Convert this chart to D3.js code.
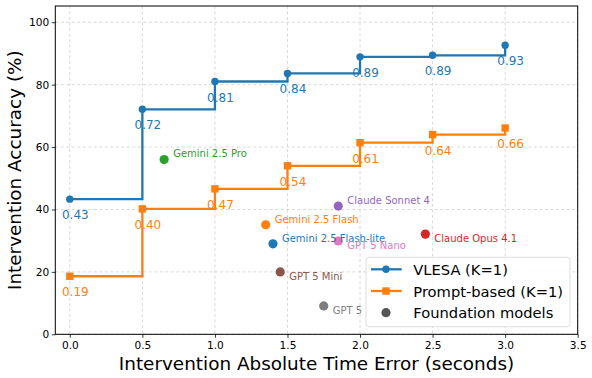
<!DOCTYPE html>
<html>
<head>
<meta charset="utf-8">
<script src="https://cdn.jsdelivr.net/npm/d3@7"></script>
<style>
  body { margin: 0; background: #fff; }
  svg { font-family: "DejaVu Sans", sans-serif; }
</style>
</head>
<body>
<div id="chart"></div>
<script>
// Data
const timeErrors = [0, 0.5, 1.0, 1.5, 2.0, 2.5, 3.0];
const vlesaAcc = [43.3, 72.1, 81.0, 83.6, 88.9, 89.4, 92.6];
const promptAcc = [18.6, 40.2, 46.6, 54.0, 61.4, 64.0, 66.1];

const modelNames = ["Gemini 2.5 Pro", "Gemini 2.5 Flash", "Gemini 2.5 Flash-lite", "GPT 5 Mini",
                    "Claude Sonnet 4", "GPT 5 Nano", "Claude Opus 4.1", "GPT 5"];
const modelErr = [0.65, 1.35, 1.40, 1.45, 1.85, 1.85, 2.45, 1.75];
const modelAcc = [56.0, 35.1, 29.0, 20.0, 41.1, 29.9, 32.1, 9.1];
const modelColors = ["#2ca02c", "#ff7f0e", "#1f77b4", "#8c564b", "#9467bd", "#e377c2", "#d62728", "#7f7f7f"];
const modelLabelUp = [true, true, true, false, true, false, false, false];

const xTicks = [0, 0.5, 1.0, 1.5, 2.0, 2.5, 3.0, 3.5];
const yTicks = [0, 20, 40, 60, 80, 100];

const W = 592, H = 378;
const margin = { top: 6, right: 14.3, bottom: 43.7, left: 55.3 };
const width = W - margin.left - margin.right;
const height = H - margin.top - margin.bottom;

const svg = d3.select("#chart").append("svg")
    .attr("width", W)
    .attr("height", H);

const g = svg.append("g")
    .attr("transform", `translate(${margin.left},${margin.top})`);

const x = d3.scaleLinear().domain([-0.1, 3.5]).range([0, width]);
const y = d3.scaleLinear().domain([0, 105.2]).range([height, 0]);

// grid
g.append("g").selectAll("line")
    .data(xTicks)
    .enter().append("line")
    .attr("x1", d => x(d)).attr("x2", d => x(d))
    .attr("y1", 0).attr("y2", height)
    .attr("stroke", "#cfcfcf").attr("stroke-width", 0.8)
    .attr("stroke-dasharray", "3,2.5");
g.append("g").selectAll("line")
    .data(yTicks)
    .enter().append("line")
    .attr("x1", 0).attr("x2", width)
    .attr("y1", d => y(d)).attr("y2", d => y(d))
    .attr("stroke", "#cfcfcf").attr("stroke-width", 0.8)
    .attr("stroke-dasharray", "3,2.5");

// axes
const xAxis = g.append("g")
    .attr("transform", `translate(0,${height})`)
    .call(d3.axisBottom(x).tickValues(xTicks).tickFormat(d3.format(".1f")).tickSize(3.5).tickPadding(3.5));
const yAxis = g.append("g")
    .call(d3.axisLeft(y).tickValues(yTicks).tickSize(3.5).tickPadding(2.5));
[xAxis, yAxis].forEach(a => {
    a.select(".domain").remove();
    a.selectAll("text").style("font-size", "10.6px").attr("fill", "#000")
        .style("font-family", "DejaVu Sans, sans-serif");
    a.selectAll("line").attr("stroke", "#000").attr("stroke-width", 0.8);
});

// frame
g.append("rect")
    .attr("width", width).attr("height", height)
    .attr("fill", "none").attr("stroke", "#000").attr("stroke-width", 1);

// step series
function drawSeries(values, color, marker) {
    const pts = timeErrors.map((t, i) => ({ t, v: values[i] }));
    g.append("path")
        .datum(pts)
        .attr("fill", "none")
        .attr("stroke", color)
        .attr("stroke-width", 2.3)
        .attr("d", d3.line().x(d => x(d.t)).y(d => y(d.v)).curve(d3.curveStepAfter));

    if (marker === "circle") {
        g.append("g").selectAll("circle")
            .data(pts).enter().append("circle")
            .attr("cx", d => x(d.t)).attr("cy", d => y(d.v))
            .attr("r", 3.7).attr("fill", color);
    } else {
        g.append("g").selectAll("rect")
            .data(pts).enter().append("rect")
            .attr("x", d => x(d.t) - 3.7).attr("y", d => y(d.v) - 3.7)
            .attr("width", 7.4).attr("height", 7.4).attr("fill", color);
    }

    g.append("g").selectAll("text")
        .data(pts).enter().append("text")
        .attr("x", d => x(d.t) + 5.5)
        .attr("y", d => y(d.v) + 16)
        .attr("text-anchor", "middle")
        .attr("dominant-baseline", "central")
        .style("font-size", "12px")
        .attr("fill", color)
        .text(d => (d.v / 100).toFixed(2));
}

drawSeries(vlesaAcc, "#1f77b4", "circle");
drawSeries(promptAcc, "#ff7f0e", "square");

// foundation models
const models = modelNames.map((name, i) => ({
    name, err: modelErr[i], acc: modelAcc[i], color: modelColors[i], up: modelLabelUp[i]
}));

g.append("g").selectAll("circle")
    .data(models).enter().append("circle")
    .attr("cx", d => x(d.err)).attr("cy", d => y(d.acc))
    .attr("r", 4.6).attr("fill", d => d.color);

g.append("g").selectAll("text")
    .data(models).enter().append("text")
    .attr("x", d => x(d.err) + 9)
    .attr("y", d => y(d.acc) + (d.up ? -5.7 : 4.3))
    .attr("dominant-baseline", "central")
    .style("font-size", "10px")
    .attr("fill", d => d.color)
    .text(d => d.name);

// axis titles
svg.append("text")
    .attr("x", margin.left + width / 2)
    .attr("y", 370)
    .attr("text-anchor", "middle")
    .style("font-size", "18.4px")
    .text("Intervention Absolute Time Error (seconds)");

svg.append("text")
    .attr("transform", `translate(21,${margin.top + height / 2}) rotate(-90)`)
    .attr("text-anchor", "middle")
    .style("font-size", "18.4px")
    .text("Intervention Accuracy (%)");

// legend
const legend = svg.append("g").attr("transform", "translate(366,257.3)");
legend.append("rect")
    .attr("width", 204).attr("height", 69.4)
    .attr("rx", 3)
    .attr("fill", "#fff").attr("fill-opacity", 0.85)
    .attr("stroke", "#d4d4d4").attr("stroke-width", 0.8);

const legendItems = [
    { label: "VLESA (K=1)", color: "#1f77b4", type: "circle" },
    { label: "Prompt-based (K=1)", color: "#ff7f0e", type: "square" },
    { label: "Foundation models", color: "#555555", type: "dot" }
];

legendItems.forEach((item, i) => {
    const row = legend.append("g").attr("transform", `translate(0,${12 + i * 21.7})`);
    if (item.type !== "dot") {
        row.append("line")
            .attr("x1", 5).attr("x2", 35.7)
            .attr("stroke", item.color).attr("stroke-width", 2.3);
    }
    if (item.type === "square") {
        row.append("rect").attr("x", 20 - 3.7).attr("y", -3.7)
            .attr("width", 7.4).attr("height", 7.4).attr("fill", item.color);
    } else {
        row.append("circle").attr("cx", 20).attr("r", item.type === "dot" ? 4.6 : 3.7)
            .attr("fill", item.color);
    }
    row.append("text")
        .attr("x", 47.3)
        .attr("dominant-baseline", "central")
        .style("font-size", "14.7px")
        .text(item.label);
});
</script>
</body>
</html>
